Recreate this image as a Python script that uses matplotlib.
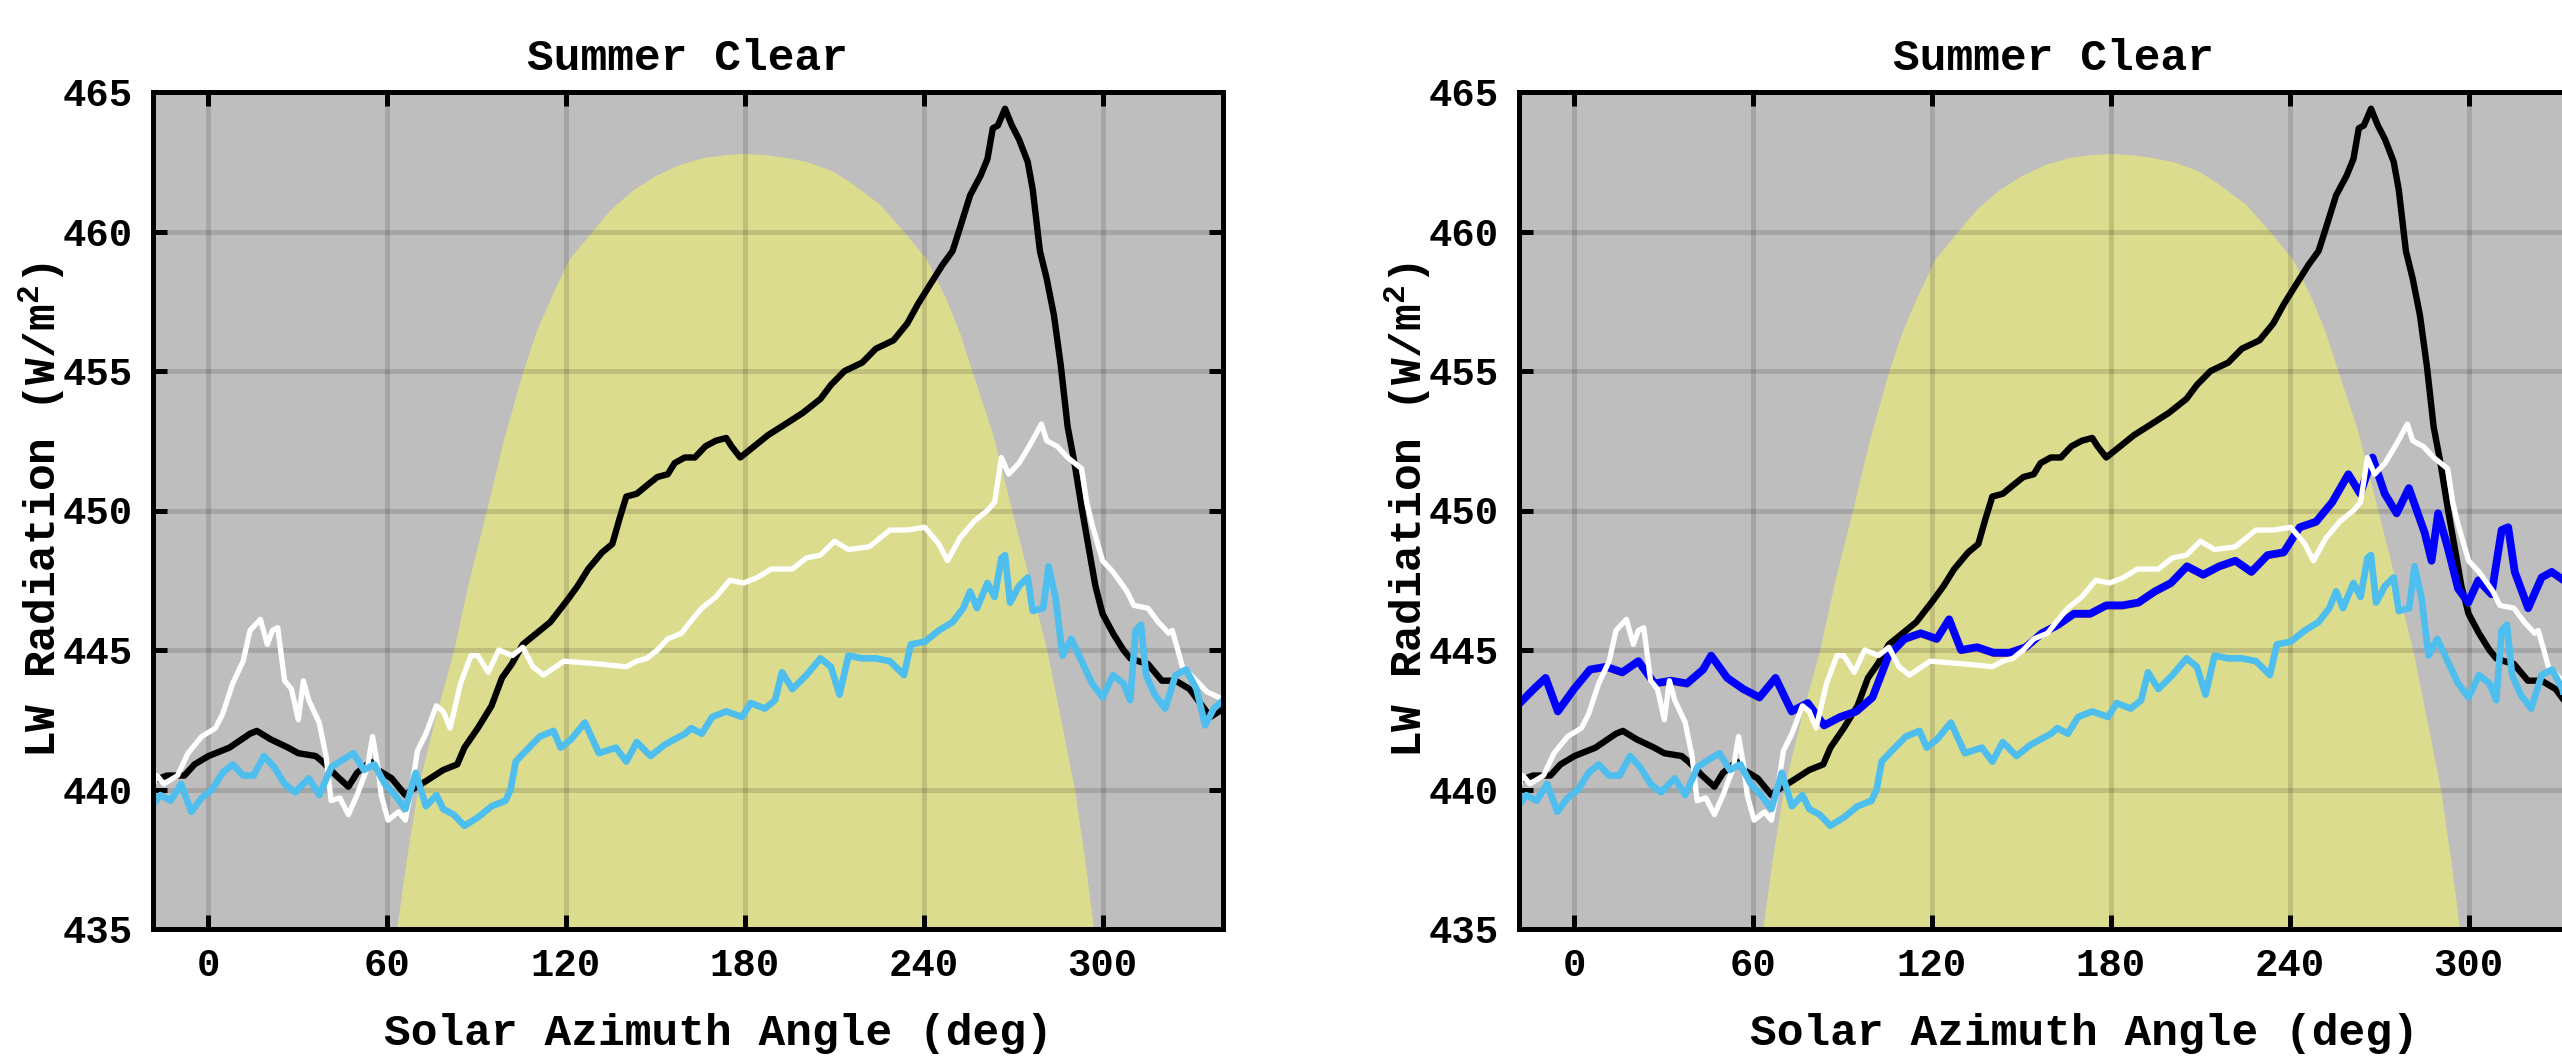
import matplotlib
matplotlib.use("Agg")
import matplotlib.pyplot as plt
import matplotlib.transforms as mtransforms

plt.rcParams['font.family'] = ['Liberation Mono', 'DejaVu Sans Mono']
plt.rcParams['font.weight'] = 'bold'
plt.rcParams['mathtext.fontset'] = 'custom'
plt.rcParams['mathtext.rm'] = 'Liberation Mono:bold'
plt.rcParams['mathtext.it'] = 'Liberation Mono:bold'
plt.rcParams['mathtext.bf'] = 'Liberation Mono:bold'

# ---------------- data ----------------
title = "Summer Clear"
xlabel = "Solar Azimuth Angle (deg)"
ylabel = "LW Radiation (W/m$^2$)"
xticks = [0, 60, 120, 180, 240, 300]
yticks = [435, 440, 445, 450, 455, 460, 465]

# solar elevation envelope (scaled), upper edge of the yellow area
sun_az = [63.3, 66.5, 70.3, 76.0, 82.4, 87.5, 93.4, 99.0, 105.6, 110.0,
          114.8, 121.0, 128.7, 135.0, 142.6, 150.0, 158.0, 166.0, 173.0, 180.0,
          187.0, 194.0, 201.0, 208.9, 215.0, 225.0, 233.4, 241.0, 247.4, 252.0,
          256.2, 263.0, 269.6, 275.5, 281.3, 286.0, 290.6, 294.0, 297.0]
sun_val = [435.0, 437.5, 440.0, 442.5, 445.0, 447.5, 450.0, 452.5, 455.0, 456.4,
           457.6, 459.0, 460.0, 460.8, 461.5, 462.0, 462.4, 462.65, 462.75, 462.8,
           462.75, 462.65, 462.5, 462.2, 461.8, 461.0, 460.0, 459.0, 457.6, 456.4,
           455.0, 452.8, 450.0, 447.5, 445.0, 442.5, 440.0, 437.5, 435.0]

black_az = [-18.9, -13.7, -7.9, -4.5, 0.2, 7.2, 14.1, 16.4, 21.0, 26.9,
            30.3, 36.1, 38.4, 43.0, 47.1, 50.0, 54.6, 57.0, 61.6, 66.2,
            68.5, 73.1, 78.9, 83.6, 86.0, 90.5, 95.1, 98.6, 101.9, 105.6,
            110.2, 114.8, 120.6, 124.0, 127.5, 132.2, 135.6, 138.0, 140.3, 143.8,
            147.2, 150.7, 154.2, 156.5, 159.9, 163.3, 166.8, 170.3, 173.8, 175.6,
            178.5, 182.0, 187.8, 193.7, 199.5, 205.4, 208.9, 213.5, 219.4, 224.0,
            229.9, 234.5, 238.1, 241.6, 246.3, 249.7, 252.1, 255.6, 259.1, 261.4,
            263.2, 264.9, 267.3, 269.6, 272.0, 274.9, 276.6, 279.0, 281.3, 283.7,
            286.0, 288.3, 290.6, 293.0, 295.3, 297.6, 300.0, 303.5, 307.0, 309.3,
            312.0, 315.2, 319.9, 324.5, 329.2, 332.7, 336.2, 339.1, 340.5]
black_val = [440.3, 440.5, 440.5, 440.9, 441.2, 441.5, 442.0, 442.1, 441.8, 441.5,
             441.3, 441.2, 441.0, 440.5, 440.1, 440.6, 441.0, 440.7, 440.4, 439.8,
             440.0, 440.3, 440.7, 440.9, 441.5, 442.2, 443.0, 444.0, 444.5, 445.2,
             445.6, 446.0, 446.8, 447.3, 447.9, 448.5, 448.8, 449.7, 450.5, 450.6,
             450.9, 451.2, 451.3, 451.7, 451.9, 451.9, 452.3, 452.5, 452.6, 452.3,
             451.9, 452.2, 452.7, 453.1, 453.5, 454.0, 454.5, 455.0, 455.3, 455.8,
             456.1, 456.7, 457.4, 458.0, 458.8, 459.3, 460.1, 461.3, 462.0, 462.6,
             463.7, 463.8, 464.4, 463.8, 463.3, 462.5, 461.5, 459.3, 458.3, 457.0,
             455.2, 453.0, 451.7, 450.1, 448.7, 447.3, 446.3, 445.6, 445.0, 444.7,
             444.6, 444.5, 443.9, 443.9, 443.6, 443.1, 442.6, 442.8, 443.0]

white_az = [-18.9, -17.1, -14.8, -10.2, -6.7, -2.1, 2.5, 4.9, 8.3, 11.8,
            14.1, 17.6, 19.9, 21.6, 23.4, 25.7, 28.0, 30.3, 32.0, 33.8,
            37.3, 39.6, 41.3, 44.2, 47.1, 50.0, 53.5, 55.2, 57.0, 58.1,
            60.4, 63.9, 66.2, 68.5, 70.3, 73.1, 76.6, 78.9, 81.2, 84.7,
            88.2, 90.5, 94.0, 97.5, 102.1, 105.6, 109.0, 112.5, 119.4, 131.0,
            140.3, 143.8, 147.2, 150.7, 154.2, 158.8, 161.7, 165.6, 170.3, 175.0,
            179.6, 184.3, 188.9, 196.0, 200.7, 205.4, 210.1, 214.8, 221.8, 228.7,
            234.6, 240.4, 245.1, 248.0, 252.1, 256.8, 261.4, 263.8, 266.1, 268.5,
            272.0, 275.4, 279.5, 281.3, 284.8, 288.3, 293.0, 294.7, 296.5, 300.0,
            303.5, 308.2, 310.5, 315.2, 318.7, 322.2, 323.4, 326.8, 331.5, 335.0,
            339.1, 340.5]
white_val = [440.0, 440.5, 440.2, 440.5, 441.3, 441.9, 442.2, 442.7, 443.8, 444.6,
             445.7, 446.1, 445.2, 445.7, 445.8, 443.9, 443.6, 442.5, 443.9, 443.2,
             442.4, 441.2, 439.6, 439.7, 439.1, 439.8, 440.8, 441.9, 440.8, 439.8,
             438.9, 439.2, 438.9, 440.2, 441.4, 442.0, 443.0, 442.8, 442.2, 443.8,
             444.8, 444.8, 444.2, 445.0, 444.8, 445.1, 444.4, 444.1, 444.6, 444.5,
             444.4, 444.6, 444.7, 445.0, 445.4, 445.6, 446.0, 446.5, 446.9, 447.5,
             447.4, 447.6, 447.9, 447.9, 448.3, 448.4, 448.9, 448.6, 448.7, 449.3,
             449.3, 449.4, 448.8, 448.2, 449.0, 449.6, 450.0, 450.3, 451.9, 451.3,
             451.7, 452.3, 453.1, 452.5, 452.3, 451.9, 451.5, 450.3, 449.5, 448.2,
             447.8, 447.1, 446.6, 446.5, 446.0, 445.6, 445.7, 444.4, 443.9, 443.5,
             443.3, 443.2]

lblue_az = [-18.9, -16.0, -12.5, -9.0, -5.6, -2.1, 1.4, 4.9, 8.3, 11.8,
            15.3, 18.8, 22.2, 25.7, 29.2, 33.8, 37.3, 41.4, 44.2, 48.8,
            52.3, 55.8, 59.3, 62.7, 66.2, 69.7, 73.1, 76.6, 78.9, 82.4,
            86.0, 90.5, 95.1, 99.8, 101.5, 103.2, 106.7, 111.3, 115.9, 118.3,
            121.8, 126.4, 131.1, 136.8, 140.3, 143.8, 148.4, 153.1, 156.5, 160.0,
            162.1, 165.6, 169.1, 173.8, 179.1, 182.0, 186.7, 190.2, 192.5, 196.0,
            200.7, 205.4, 208.9, 211.8, 214.8, 219.4, 224.0, 228.7, 233.4, 235.7,
            240.4, 245.1, 249.7, 253.3, 255.6, 257.9, 261.4, 263.8, 266.1, 267.3,
            269.0, 272.0, 274.9, 276.6, 280.1, 281.9, 284.2, 286.6, 289.5, 293.0,
            296.5, 300.0, 303.5, 307.0, 309.3, 311.1, 312.9, 314.6, 317.5, 321.0,
            324.5, 328.0, 331.5, 334.4, 337.3, 340.5]
lblue_val = [439.4, 439.8, 439.6, 440.2, 439.2, 439.7, 440.0, 440.6, 440.9, 440.5,
             440.5, 441.2, 440.8, 440.2, 439.9, 440.4, 439.8, 440.8, 441.0, 441.3,
             440.7, 440.9, 440.2, 439.8, 439.3, 440.6, 439.4, 439.8, 439.3, 439.1,
             438.7, 439.0, 439.4, 439.6, 440.0, 441.0, 441.4, 441.9, 442.1, 441.5,
             441.8, 442.4, 441.3, 441.5, 441.0, 441.7, 441.2, 441.6, 441.8, 442.0,
             442.2, 442.0, 442.6, 442.8, 442.6, 443.1, 442.9, 443.2, 444.2, 443.6,
             444.1, 444.7, 444.4, 443.4, 444.8, 444.7, 444.7, 444.6, 444.1, 445.2,
             445.3, 445.7, 446.0, 446.5, 447.1, 446.5, 447.4, 446.9, 448.3, 448.4,
             446.7, 447.3, 447.6, 446.4, 446.5, 448.0, 446.9, 444.8, 445.4, 444.6,
             443.8, 443.3, 444.1, 443.8, 443.2, 445.7, 445.9, 444.1, 443.4, 442.9,
             444.1, 444.3, 443.6, 442.3, 442.9, 443.2]

blue_az = [-18.1, -13.5, -9.5, -5.4, 0.0, 5.4, 10.8, 16.2, 21.6, 27.0,
           32.5, 37.9, 43.3, 46.0, 51.4, 56.8, 62.2, 67.6, 73.0, 78.4,
           83.9, 89.3, 94.7, 100.1, 105.5, 110.9, 116.3, 121.7, 125.8, 129.8,
           135.2, 140.7, 146.1, 151.5, 156.9, 162.3, 167.7, 173.1, 178.5, 183.9,
           189.3, 194.8, 200.2, 205.6, 211.0, 216.4, 221.8, 227.2, 232.6, 238.0,
           243.4, 248.9, 254.3, 259.7, 263.7, 267.8, 271.9, 275.9, 280.0, 285.3,
           287.6, 289.8, 293.2, 296.5, 299.9, 303.3, 307.7, 311.1, 313.3, 315.5,
           320.0, 324.5, 327.9, 331.9, 340.5]
blue_val = [443.1, 443.6, 444.0, 442.8, 443.6, 444.3, 444.4, 444.2, 444.6, 443.8,
            443.9, 443.8, 444.3, 444.8, 444.0, 443.6, 443.3, 444.0, 442.8, 443.1,
            442.3, 442.6, 442.8, 443.3, 444.8, 445.4, 445.6, 445.4, 446.1, 445.0,
            445.1, 444.9, 444.9, 445.1, 445.6, 445.9, 446.3, 446.3, 446.6, 446.6,
            446.7, 447.1, 447.4, 448.0, 447.7, 448.0, 448.2, 447.8, 448.4, 448.5,
            449.4, 449.6, 450.3, 451.3, 450.6, 451.9, 450.6, 449.9, 450.8, 449.2,
            448.2, 449.9, 448.6, 447.2, 446.7, 447.5, 447.0, 449.3, 449.4, 447.8,
            446.5, 447.6, 447.8, 447.5, 447.5]

# ---------------- styling ----------------
BG = '#bebebe'
SUN = '#dcdc8e'
C_BLACK = '#000000'
C_WHITE = '#ffffff'
C_LBLUE = '#4dbeee'
C_BLUE = '#0000ff'
C_ORANGE = '#d9821a'

W, H = 2562, 1059
fig = plt.figure(figsize=(W / 100, H / 100), dpi=100)

ax_w = 1070.5 / W
ax_h = 837 / H
ax_b = (H - 929) / H
ax1 = fig.add_axes([152.5 / W, ax_b, ax_w, ax_h])
ax2 = fig.add_axes([1518.5 / W, ax_b, ax_w, ax_h])


def style(ax):
    ax.set_facecolor(BG)
    ax.set_xlim(-18.6, 340.4)
    ax.set_ylim(435, 465)
    ax.set_xticks(xticks)
    ax.set_yticks(yticks)
    ax.set_yticklabels([str(v) for v in yticks])
    ax.grid(True, color='black', alpha=0.13, linewidth=3.6)
    ax.tick_params(direction='in', length=10, width=3.6, top=True, right=True,
                   labelsize=28, pad=14)
    for s in ax.spines.values():
        s.set_linewidth(3.6)
        s.set_zorder(10)
    ax.set_title(title, fontsize=32, fontweight='bold', pad=16)
    ax.set_xlabel(xlabel, fontsize=32, fontweight='bold')
    ax.xaxis.set_label_coords(0.529, -0.1, transform=ax.transAxes)
    ax.xaxis.label.set_va('top')
    ax.set_ylabel(ylabel, fontsize=32, fontweight='bold', labelpad=-4)


for ax in (ax1, ax2):
    ax.fill_between(sun_az, 435, sun_val, color=SUN, linewidth=0, zorder=1)

LW_K, LW_W, LW_L, LW_B = 4.6, 3.8, 4.8, 5.6

ax1.plot(black_az, black_val, color=C_BLACK, lw=LW_K, zorder=3)
ax1.plot(white_az, white_val, color=C_WHITE, lw=LW_W, zorder=4)
ax1.plot(lblue_az, lblue_val, color=C_LBLUE, lw=LW_L, zorder=5)

ax2.plot(black_az, black_val, color=C_BLACK, lw=LW_K, zorder=3)
off = mtransforms.offset_copy(ax2.transData, fig=fig, x=0, y=-2.5, units='dots')
ax2.plot(blue_az, blue_val, color=C_ORANGE, lw=2.5, zorder=3.5, transform=off)
ax2.plot(blue_az, blue_val, color=C_BLUE, lw=LW_B, zorder=3.6)
ax2.plot(white_az, white_val, color=C_WHITE, lw=LW_W, zorder=4)
ax2.plot(lblue_az, lblue_val, color=C_LBLUE, lw=LW_L, zorder=5)

for ax in (ax1, ax2):
    style(ax)

fig.savefig('out.png', dpi=100)
